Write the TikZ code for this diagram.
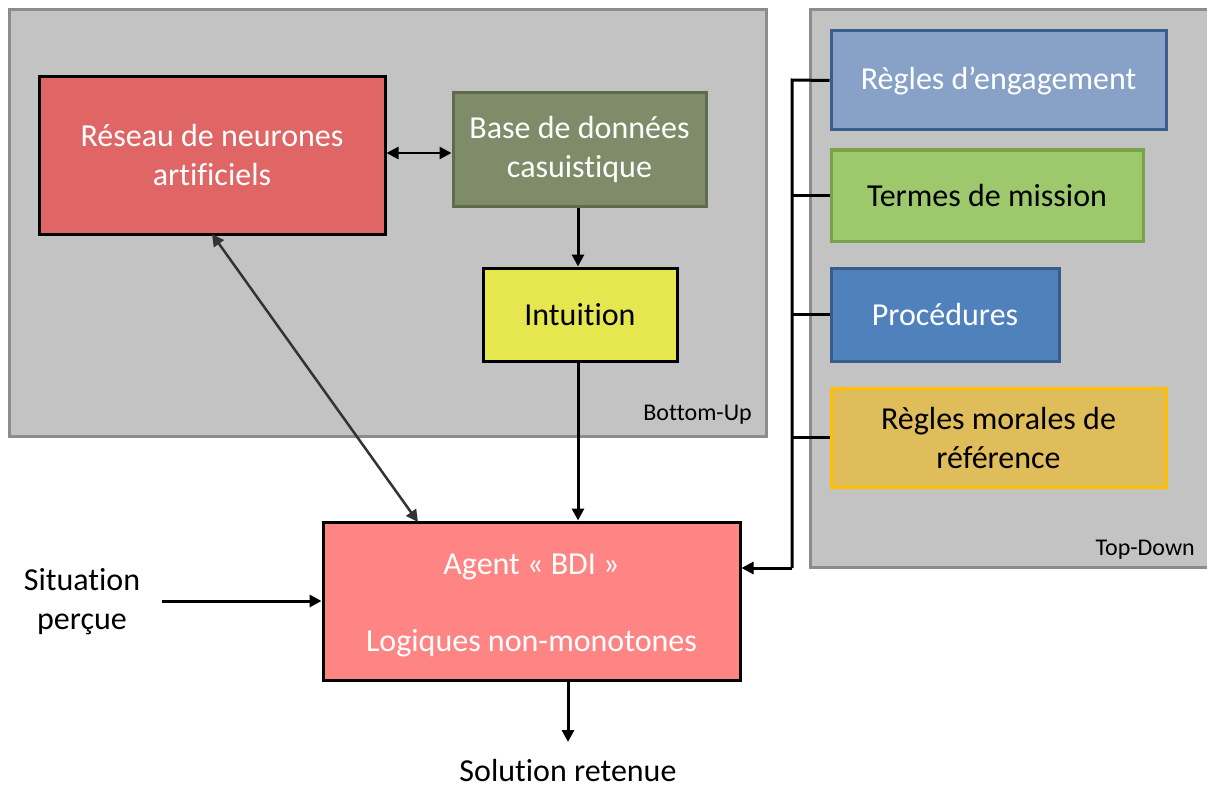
\documentclass[tikz,border=0pt]{standalone}
\usepackage{fontspec}
\setmainfont{Carlito}[Ligatures=NoCommon]
\usetikzlibrary{arrows.meta}
\definecolor{panelfill}{HTML}{C3C3C3}
\definecolor{paneldraw}{HTML}{8C8C8C}
\definecolor{rnafill}{HTML}{E06666}
\definecolor{basefill}{HTML}{7E8C6A}
\definecolor{basedraw}{HTML}{5F6B4C}
\definecolor{intfill}{HTML}{E6E64F}
\definecolor{regfill}{HTML}{87A2C6}
\definecolor{regdraw}{HTML}{3A5F8F}
\definecolor{termfill}{HTML}{9DC86C}
\definecolor{termdraw}{HTML}{79A34A}
\definecolor{procfill}{HTML}{4F81BD}
\definecolor{procdraw}{HTML}{385D8A}
\definecolor{morfill}{HTML}{DFBD5A}
\definecolor{mordraw}{HTML}{FFC000}
\definecolor{agentfill}{HTML}{FF8585}
\definecolor{diagline}{HTML}{333333}
\tikzset{
  panel/.style={fill=panelfill,draw=paneldraw,line width=3pt},
  boxx/.style={line width=3pt,align=center,inner sep=0pt,
    font=\fontsize{32}{39}\selectfont},
  conn/.style={line width=3pt,black},
  tip/.style={-{Triangle[width=12pt,length=12pt]}},
  tips/.style={{Triangle[width=12pt,length=12pt]}-{Triangle[width=12pt,length=12pt]}},
  plain/.style={font=\fontsize{32}{39}\selectfont,align=center,inner sep=0pt},
  corner/.style={font=\fontsize{24}{26}\selectfont,inner sep=0pt}
}
\begin{document}
\begin{tikzpicture}[x=1pt,y=-1pt]
\useasboundingbox (0,0) rectangle (1207,789);
% panels
\draw[panel] (9,10) rectangle (766,436);
\draw[panel] (810,10) rectangle (1215,567);
\node[corner,anchor=base east] (bu) at (752,420) {Bottom-Up};
\node[corner,anchor=base east] (td) at (1195,555) {Top-Down};
% bottom-up boxes
\node[boxx,fill=rnafill,draw=black,text=white,minimum width=346pt,minimum height=157pt] (rna) at (212,155.5) {Réseau de neurones\\artificiels};
\node[boxx,fill=basefill,draw=basedraw,text=white,minimum width=253pt,minimum height=113pt] (base) at (579.5,149.5) {Base de données\\casuistique};
\node[boxx,fill=intfill,draw=black,text=black,minimum width=194pt,minimum height=93pt] (int) at (580,314.5) {Intuition};
% top-down boxes
\node[boxx,fill=regfill,draw=regdraw,text=white,minimum width=335pt,minimum height=99pt] (reg) at (998.5,80.5) {Règles d’engagement};
\node[boxx,fill=termfill,draw=termdraw,text=black,minimum width=312pt,minimum height=91pt] (term) at (987,195.5) {Termes de mission};
\node[boxx,fill=procfill,draw=procdraw,text=white,minimum width=228pt,minimum height=93pt] (proc) at (945,314.5) {Procédures};
\node[boxx,fill=morfill,draw=mordraw,text=black,minimum width=335pt,minimum height=99pt] (mor) at (998.5,437.5) {Règles morales de\\référence};
% agent
\node[boxx,fill=agentfill,draw=black,text=white,minimum width=417pt,minimum height=158pt] (agent) at (531.5,601) {};
\node[plain,text=white,anchor=base] (ag1) at (531.5,574) {Agent « BDI »};
\node[plain,text=white,anchor=base] (ag2) at (531.5,651) {Logiques non-monotones};
% side texts
\node[plain] (sit) at (82,602) {Situation\\perçue};
\node[plain,anchor=base] (sol) at (568,781) {Solution retenue};
\coordinate (sitend) at (162,601);
\coordinate (solend) at (568,742);
% connectors
\draw[conn,tips,line width=2.5pt] (rna.east |- 0,153) -- (base.west |- 0,153);
\draw[conn,tip] (base.south -| 578,0) -- (int.north -| 578,0);
\draw[conn,tip] (int.south -| 578,0) -- (agent.north -| 578,0);
\draw[tips,line width=2.5pt,diagline] (212,234) -- (418,522);
\draw[conn,tip] (sitend) -- (agent.west |- sitend);
\draw[conn,tip] (agent.south -| solend) -- (solend);
% bus
\coordinate (bustop) at (792,80);
\coordinate (busbot) at (792,568);
\draw[conn] (reg.west) -- (bustop) -- (busbot);
\draw[conn] (term.west) -- (792,195.5);
\draw[conn] (proc.west) -- (792,314.5);
\draw[conn] (mor.west) -- (792,437.5);
\draw[conn,tip] (busbot) -- (agent.east |- busbot);
\end{tikzpicture}
\end{document}
